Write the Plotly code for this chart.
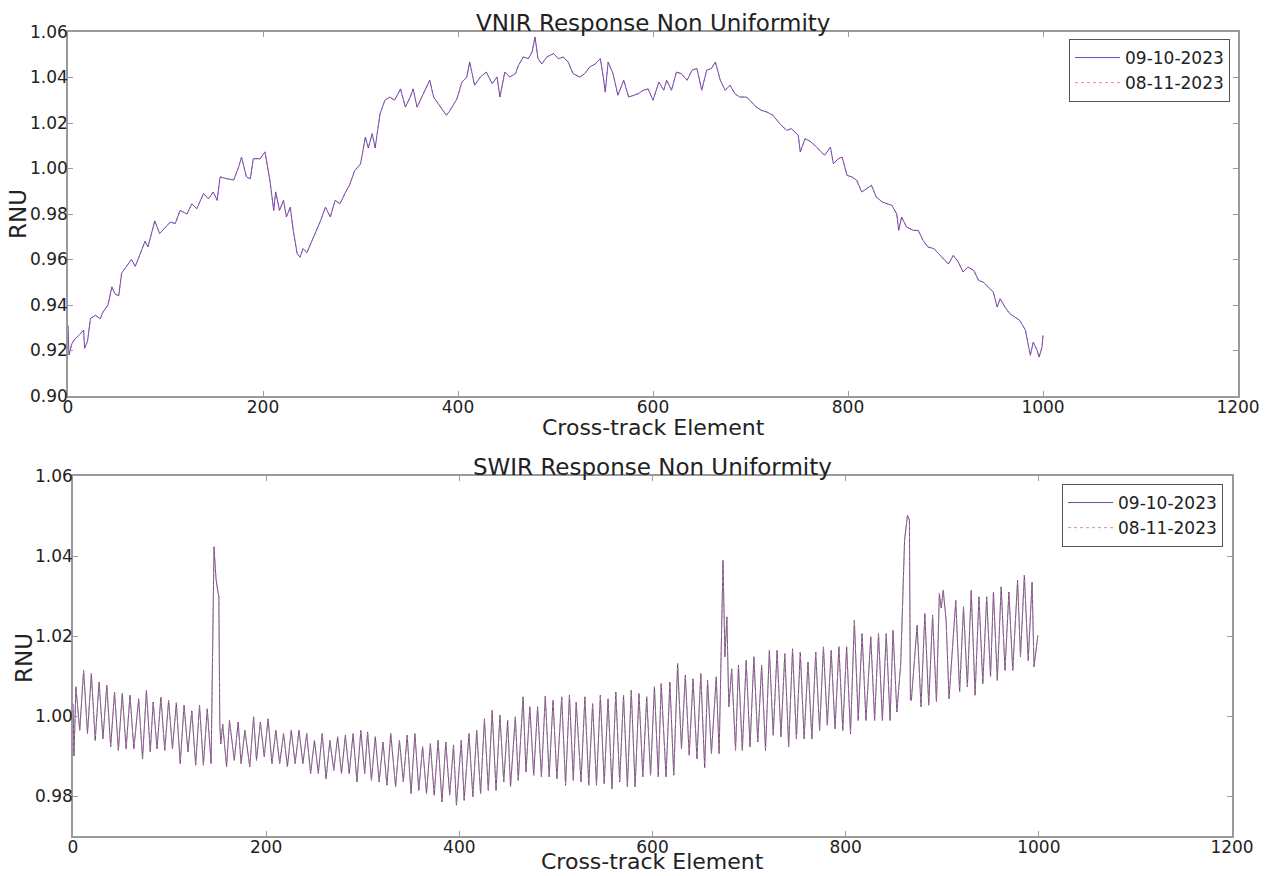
import plotly.graph_objects as go

# ---------------- VNIR response non uniformity ----------------
vnir_element = [
    0, 1, 4, 7, 12, 16, 17, 20, 23, 28, 33, 36, 41, 45, 48, 52, 55, 60, 65, 69,
    74, 79, 82, 89, 94, 100, 105, 110, 115, 122, 127, 132, 139, 144, 149, 153, 156, 163, 170, 175,
    178, 183, 187, 190, 197, 202, 204, 207, 211, 213, 217, 221, 224, 228, 231, 235, 238, 241, 245, 250,
    255, 259, 264, 269, 274, 279, 284, 289, 294, 300, 305, 308, 312, 315, 320, 325, 330, 335, 341, 346,
    351, 354, 358, 364, 371, 375, 382, 388, 392, 399, 404, 409, 412, 417, 423, 429, 435, 440, 443, 448,
    453, 459, 462, 467, 472, 476, 479, 482, 486, 491, 498, 503, 508, 513, 518, 525, 530, 535, 541, 546,
    549, 551, 554, 559, 564, 570, 575, 580, 585, 590, 595, 600, 606, 611, 614, 619, 624, 629, 635, 640,
    645, 650, 655, 660, 664, 669, 674, 679, 684, 689, 696, 701, 706, 711, 717, 723, 730, 737, 742, 749,
    751, 756, 761, 766, 771, 776, 782, 785, 790, 794, 799, 804, 809, 814, 819, 824, 829, 835, 840, 845,
    850, 852, 855, 860, 867, 872, 877, 882, 888, 893, 898, 903, 908, 913, 918, 923, 929, 934, 939, 944,
    949, 953, 956, 961, 966, 971, 976, 982, 985, 987, 990, 994, 996, 999, 1000,
]
vnir_rnu_0910 = [
    0.9310, 0.9180, 0.9230, 0.9250, 0.9270, 0.9290, 0.9210, 0.9240, 0.9340, 0.9355,
    0.9340, 0.9370, 0.9400, 0.9480, 0.9450, 0.9440, 0.9540, 0.9570, 0.9600, 0.9570,
    0.9626, 0.9680, 0.9655, 0.9770, 0.9714, 0.9740, 0.9765, 0.9758, 0.9816, 0.9800,
    0.9845, 0.9823, 0.9890, 0.9867, 0.9897, 0.9860, 0.9963, 0.9955, 0.9950, 1.0007,
    1.0050, 0.9963, 0.9955, 1.0043, 1.0043, 1.0073, 1.0030, 0.9950, 0.9816, 0.9897,
    0.9816, 0.9860, 0.9787, 0.9830, 0.9728, 0.9626, 0.9610, 0.9648, 0.9630, 0.9680,
    0.9728, 0.9770, 0.9830, 0.9787, 0.9860, 0.9845, 0.9890, 0.9930, 0.9990, 1.0020,
    1.0138, 1.0090, 1.0153, 1.0090, 1.0240, 1.0300, 1.0314, 1.0300, 1.0350, 1.0270,
    1.0314, 1.0350, 1.0270, 1.0322, 1.0388, 1.0314, 1.0270, 1.0234, 1.0256, 1.0307,
    1.0380, 1.0402, 1.0468, 1.0366, 1.0402, 1.0424, 1.0373, 1.0402, 1.0314, 1.0424,
    1.0402, 1.0417, 1.0453, 1.0490, 1.0483, 1.0512, 1.0578, 1.0483, 1.0460, 1.0490,
    1.0505, 1.0483, 1.0490, 1.0468, 1.0417, 1.0402, 1.0417, 1.0446, 1.0460, 1.0483,
    1.0402, 1.0336, 1.0468, 1.0417, 1.0322, 1.0388, 1.0314, 1.0322, 1.0329, 1.0344,
    1.0350, 1.0300, 1.0380, 1.0344, 1.0388, 1.0344, 1.0424, 1.0417, 1.0388, 1.0432,
    1.0440, 1.0344, 1.0432, 1.0440, 1.0468, 1.0388, 1.0344, 1.0366, 1.0329, 1.0314,
    1.0314, 1.0292, 1.0270, 1.0256, 1.0248, 1.0234, 1.0197, 1.0168, 1.0175, 1.0146,
    1.0073, 1.0131, 1.0120, 1.0102, 1.0080, 1.0058, 1.0094, 1.0021, 1.0043, 1.0050,
    0.9970, 0.9963, 0.9948, 0.9897, 0.9911, 0.9926, 0.9875, 0.9853, 0.9845, 0.9838,
    0.9800, 0.9728, 0.9787, 0.9743, 0.9728, 0.9728, 0.9684, 0.9655, 0.9648, 0.9626,
    0.9604, 0.9580, 0.9618, 0.9590, 0.9545, 0.9567, 0.9552, 0.9508, 0.9500, 0.9479,
    0.9457, 0.9391, 0.9428, 0.9391, 0.9362, 0.9347, 0.9333, 0.9289, 0.9215, 0.9179,
    0.9237, 0.9200, 0.9171, 0.9215, 0.9267,
]
# the two acquisitions coincide to within the line width
vnir_rnu_0811 = list(vnir_rnu_0910)

# ---------------- SWIR response non uniformity ----------------
swir_element = [
    0, 1, 3, 7, 11, 15, 19, 23, 27, 31, 35, 39, 43, 47, 51, 55, 59, 63, 68, 72,
    76, 80, 83, 87, 91, 95, 99, 103, 107, 111, 115, 119, 123, 127, 131, 135, 139, 143, 146, 147,
    148, 150, 151, 152, 153, 155, 159, 162, 167, 171, 174, 178, 183, 187, 190, 194, 198, 202, 206, 210,
    214, 218, 222, 226, 230, 234, 238, 242, 246, 250, 254, 258, 262, 266, 270, 274, 278, 282, 286, 290,
    294, 298, 302, 305, 309, 313, 317, 321, 325, 329, 334, 338, 342, 346, 350, 354, 358, 362, 366, 370,
    374, 378, 382, 386, 390, 394, 397, 402, 405, 410, 414, 418, 422, 426, 430, 434, 438, 442, 446, 450,
    453, 458, 461, 466, 469, 473, 477, 481, 485, 489, 493, 497, 501, 506, 510, 514, 518, 521, 526, 530,
    534, 538, 542, 546, 550, 554, 558, 562, 566, 570, 574, 578, 582, 586, 590, 594, 598, 602, 606, 609,
    614, 618, 622, 626, 630, 634, 638, 642, 646, 650, 654, 657, 661, 666, 669, 673, 675, 677, 679, 682,
    686, 689, 693, 697, 701, 705, 709, 713, 717, 721, 725, 729, 733, 737, 741, 745, 749, 753, 757, 761,
    765, 769, 773, 777, 781, 785, 789, 793, 797, 801, 805, 809, 813, 817, 821, 826, 830, 834, 838, 842,
    846, 849, 853, 857, 859, 861, 864, 866, 867, 868, 874, 878, 882, 886, 890, 894, 897, 899, 901, 904,
    907, 914, 918, 922, 926, 930, 934, 938, 942, 946, 950, 953, 957, 961, 965, 969, 973, 978, 981, 985,
    989, 993, 995, 999,
]
swir_rnu_0910 = [
    1.0030, 0.9900, 1.0073, 0.9964, 1.0114, 0.9956, 1.0106, 0.9939, 1.0085, 0.9943,
    1.0077, 0.9923, 1.0060, 0.9914, 1.0056, 0.9918, 1.0052, 0.9918, 1.0043, 0.9893,
    1.0064, 0.9910, 1.0035, 0.9918, 1.0047, 0.9914, 1.0039, 0.9918, 1.0033, 0.9881,
    1.0027, 0.9910, 1.0013, 0.9877, 1.0027, 0.9877, 1.0018, 0.9881, 1.0423, 1.0360,
    1.0345, 1.0310, 1.0300, 0.9980, 0.9930, 0.9980, 0.9873, 0.9989, 0.9889, 0.9985,
    0.9881, 0.9964, 0.9873, 0.9998, 0.9889, 0.9985, 0.9898, 0.9993, 0.9881, 0.9964,
    0.9881, 0.9956, 0.9873, 0.9964, 0.9881, 0.9964, 0.9881, 0.9956, 0.9856, 0.9939,
    0.9856, 0.9956, 0.9843, 0.9939, 0.9864, 0.9948, 0.9856, 0.9952, 0.9856, 0.9956,
    0.9835, 0.9964, 0.9856, 0.9960, 0.9839, 0.9948, 0.9835, 0.9935, 0.9827, 0.9956,
    0.9823, 0.9939, 0.9835, 0.9952, 0.9806, 0.9956, 0.9814, 0.9923, 0.9806, 0.9931,
    0.9802, 0.9939, 0.9785, 0.9935, 0.9802, 0.9927, 0.9777, 0.9939, 0.9789, 0.9956,
    0.9798, 0.9964, 0.9806, 0.9993, 0.9814, 1.0014, 0.9814, 1.0002, 0.9835, 0.9989,
    0.9823, 0.9998, 0.9839, 1.0048, 0.9860, 1.0023, 0.9852, 1.0023, 0.9848, 1.0050,
    0.9848, 1.0039, 0.9843, 1.0048, 0.9827, 1.0052, 0.9839, 1.0035, 0.9835, 1.0048,
    0.9827, 1.0031, 0.9827, 1.0052, 0.9831, 1.0043, 0.9818, 1.0060, 0.9835, 1.0052,
    0.9823, 1.0064, 0.9823, 1.0056, 0.9848, 1.0048, 0.9852, 1.0073, 0.9848, 1.0081,
    0.9848, 1.0085, 0.9852, 1.0131, 0.9918, 1.0102, 0.9902, 1.0093, 0.9893, 1.0106,
    0.9870, 1.0089, 0.9906, 1.0098, 0.9906, 1.0389, 1.0148, 1.0248, 1.0023, 1.0118,
    0.9914, 1.0127, 0.9914, 1.0139, 0.9923, 1.0148, 0.9935, 1.0127, 0.9914, 1.0164,
    0.9952, 1.0164, 0.9948, 1.0156, 0.9923, 1.0168, 0.9943, 1.0160, 0.9943, 1.0135,
    0.9943, 1.0160, 0.9964, 1.0173, 0.9977, 1.0164, 0.9968, 1.0173, 0.9964, 1.0173,
    0.9956, 1.0239, 0.9989, 1.0206, 0.9989, 1.0198, 0.9989, 1.0206, 0.9989, 1.0206,
    0.9989, 1.0214, 1.0010, 1.0130, 1.0260, 1.0440, 1.0502, 1.0490, 1.0040, 1.0039,
    1.0227, 1.0023, 1.0256, 1.0027, 1.0252, 1.0035, 1.0306, 1.0270, 1.0314, 1.0240,
    1.0043, 1.0289, 1.0060, 1.0273, 1.0073, 1.0314, 1.0052, 1.0298, 1.0081, 1.0298,
    1.0098, 1.0310, 1.0089, 1.0323, 1.0114, 1.0310, 1.0114, 1.0339, 1.0148, 1.0352,
    1.0139, 1.0335, 1.0123, 1.0202,
]
swir_rnu_0811 = list(swir_rnu_0910)

dates = ["09-10-2023", "08-11-2023"]
x_ticks = [0, 200, 400, 600, 800, 1000, 1200]
vnir_y_ticks = [0.90, 0.92, 0.94, 0.96, 0.98, 1.00, 1.02, 1.04, 1.06]
swir_y_ticks = [0.98, 1.00, 1.02, 1.04, 1.06]

W, H = 1269, 876
FONT = "DejaVu Sans"
AX = "#9a9a9a"

fig = go.Figure()

# VNIR traces
fig.add_trace(go.Scatter(x=vnir_element, y=vnir_rnu_0910, mode="lines", name=dates[0],
                         line=dict(color="rgba(40,40,200,0.8)", width=1),
                         xaxis="x", yaxis="y", legend="legend"))
fig.add_trace(go.Scatter(x=vnir_element, y=vnir_rnu_0811, mode="lines", name=dates[1],
                         line=dict(color="rgba(225,60,60,0.6)", width=1, dash="3px,3px"),
                         xaxis="x", yaxis="y", legend="legend"))
# SWIR traces
fig.add_trace(go.Scatter(x=swir_element, y=swir_rnu_0910, mode="lines", name=dates[0],
                         line=dict(color="rgba(70,50,120,0.85)", width=1),
                         xaxis="x2", yaxis="y2", legend="legend2"))
fig.add_trace(go.Scatter(x=swir_element, y=swir_rnu_0811, mode="lines", name=dates[1],
                         line=dict(color="rgba(200,120,140,0.8)", width=1, dash="3px,3px"),
                         xaxis="x2", yaxis="y2", legend="legend2"))

axis_common = dict(showline=True, linecolor=AX, linewidth=1.5, mirror="allticks",
                   ticks="inside", ticklen=5, tickcolor=AX, showgrid=False, zeroline=False,
                   automargin=False, ticklabelstandoff=-5,
                   tickfont=dict(family=FONT, size=17, color="#222"))

# panel boxes in pixels: (left, right, top, bottom)
top_box = (68, 1238, 32, 396)
bot_box = (73, 1232, 476, 836)


def xdom(b):
    return [b[0] / W, b[1] / W]


def ydom(b):
    return [1 - b[3] / H, 1 - b[2] / H]


legend_style = dict(xanchor="right", yanchor="top", bordercolor="#555", borderwidth=1,
                    bgcolor="white", itemwidth=45,
                    font=dict(family=FONT, size=17, color="#222"))

fig.update_layout(
    width=W, height=H, autosize=False,
    margin=dict(l=0, r=0, t=0, b=0, pad=0, autoexpand=False),
    paper_bgcolor="white", plot_bgcolor="white",
    font=dict(family=FONT, color="#222"),
    xaxis=dict(domain=xdom(top_box), range=[0, 1200], tickvals=x_ticks, anchor="y", **axis_common),
    yaxis=dict(domain=ydom(top_box), range=[0.90, 1.06], tickvals=vnir_y_ticks, tickformat=".2f",
               anchor="x", **axis_common),
    xaxis2=dict(domain=xdom(bot_box), range=[0, 1200], tickvals=x_ticks, anchor="y2", **axis_common),
    yaxis2=dict(domain=ydom(bot_box), range=[0.97, 1.06], tickvals=swir_y_ticks, tickformat=".2f",
                anchor="x2", **axis_common),
    legend=dict(x=1230 / W, y=1 - 39 / H, **legend_style),
    legend2=dict(x=1223 / W, y=1 - 484 / H, **legend_style),
    showlegend=True,
)

# (text, x px, y px, font size, angle, vertical anchor)
labels = [
    ("VNIR Response Non Uniformity", 653, 23, 23, 0, "middle"),
    ("Cross-track Element", 653, 427, 22, 0, "middle"),
    ("RNU", 18, 214, 23, -90, "middle"),
    ("SWIR Response Non Uniformity", 652, 467, 23, 0, "middle"),
    ("Cross-track Element", 652, 876, 22, 0, "bottom"),
    ("RNU", 24, 658, 23, -90, "middle"),
]
for text, px, py, size, angle, va in labels:
    fig.add_annotation(text=text, x=px / W, y=1 - py / H, xref="paper", yref="paper",
                       showarrow=False, textangle=angle, xanchor="center", yanchor=va,
                       font=dict(family=FONT, size=size, color="#222"))

fig.write_html("out.html", config={"responsive": False},
               post_script="document.body.style.margin='0px';document.body.style.overflow='hidden';")
